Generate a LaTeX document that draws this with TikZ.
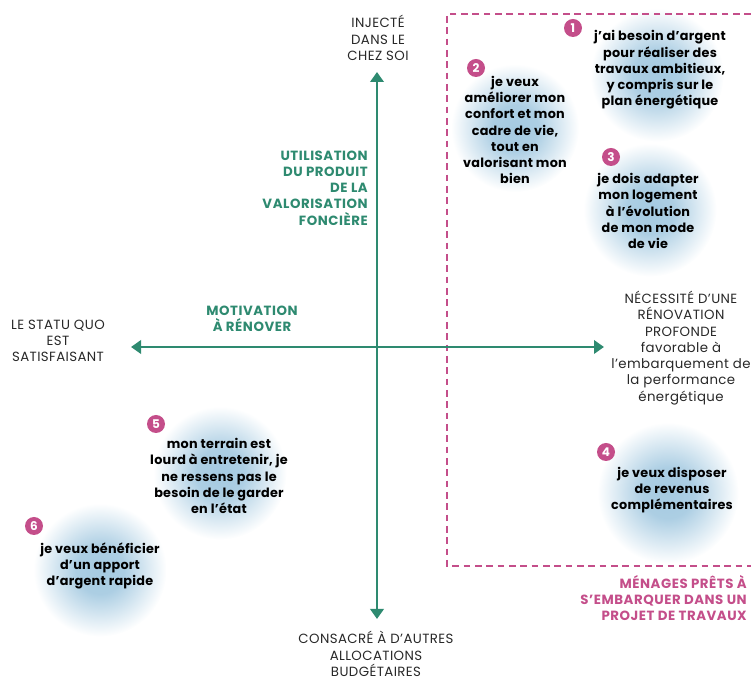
\documentclass[tikz,border=0pt]{standalone}
\usepackage{fontspec}
\setmainfont{Poppins}
\newfontfamily\labfont[LetterSpace=3]{Poppins}
\newfontfamily\headfont[LetterSpace=4]{Poppins}
\newfontfamily\bubfont[LetterSpace=2]{Poppins}
\usepackage{tikz}
\usetikzlibrary{arrows.meta,positioning}
\definecolor{axisgreen}{RGB}{46,138,112}
\definecolor{menpink}{RGB}{196,78,138}
\definecolor{bubblue}{RGB}{165,202,225}
\definecolor{labgray}{RGB}{40,40,40}
\pgfdeclareradialshading{bubshade}{\pgfpoint{0bp}{0bp}}{%
  color(0bp)=(bubblue);color(9bp)=(bubblue!92);color(25bp)=(white);color(50bp)=(white)}
\tikzset{
  axis/.style={{Triangle[length=7.5pt,width=10pt]}-{Triangle[length=7.5pt,width=10pt]},
    line width=2.2pt,axisgreen},
  frame/.style={menpink,line width=1.1pt,dash pattern=on 5pt off 3.5pt},
  axislab/.style={align=center,text=labgray,inner sep=0pt,
    font=\labfont\fontsize{10}{12.2}\selectfont},
  greenlab/.style={text=axisgreen,inner sep=0pt,
    font=\headfont\fontsize{10}{12.2}\selectfont\bfseries},
  bubble/.style={circle,shading=bubshade,minimum size=#1,inner sep=0pt},
  bubtext/.style={align=center,inner sep=0pt,text=black,
    font=\bubfont\fontsize{9.6}{12.2}\selectfont\bfseries},
  badge/.style={circle,fill=menpink,text=white,inner sep=0pt,minimum size=13.5pt,
    font=\fontsize{9}{9}\selectfont\bfseries}
}
\begin{document}
\begin{tikzpicture}[x=0.75pt,y=-0.75pt]
\useasboundingbox (0,0) rectangle (751,680);
% soft bubbles
\node[bubble=100pt] (s1) at (657,75) {};
\node[bubble=96pt] (s2) at (515,128) {};
\node[bubble=100pt] (s3) at (650,210) {};
\node[bubble=106pt] (s4) at (668,493) {};
\node[bubble=100pt] (s5) at (220,473) {};
\node[bubble=100pt] (s6) at (100,570) {};
% ready households frame
\draw[frame] (751,14) -- (447,14) -- (447,566) -- (751,566);
% axes
\coordinate (top) at (377,72);
\coordinate (bot) at (377,619);
\coordinate (lft) at (131,347);
\coordinate (rgt) at (604,347);
\draw[axis] (bot) -- (top);
\draw[axis] (lft) -- (rgt);
% axis ends
\node[axislab] (inj) at (378,38) {INJECTÉ\\DANS LE\\CHEZ SOI};
\node[axislab] (cons) at (376,654) {CONSACRÉ À D’AUTRES\\ALLOCATIONS\\BUDGÉTAIRES};
\node[axislab] (statu) at (58,341) {LE STATU QUO\\EST\\SATISFAISANT};
\node[axislab] (neces) at (681,348) {NÉCESSITÉ D’UNE\\RÉNOVATION\\PROFONDE\\favorable à\\l’embarquement de\\la performance\\énergétique};
% axis titles
\node[greenlab,align=right,anchor=east] (util) at (368,188) {UTILISATION\\DU PRODUIT\\DE LA\\VALORISATION\\FONCIÈRE};
\node[greenlab,align=center] (motiv) at (252,319) {MOTIVATION\\À RÉNOVER};
\node[text=menpink,inner sep=0pt,align=right,anchor=east,
  font=\headfont\fontsize{10}{12.2}\selectfont\bfseries] (menag) at (747,598)
  {MÉNAGES PRÊTS À\\S’EMBARQUER DANS UN\\PROJET DE TRAVAUX};
% motivations
\node[bubtext] (t1) at (660,70) {j’ai besoin d’argent\\pour réaliser des\\travaux ambitieux,\\y compris sur le\\plan énergétique};
\node[bubtext] (t2) at (515,130) {je veux\\améliorer mon\\confort et mon\\cadre de vie,\\tout en\\valorisant mon\\bien};
\node[bubtext] (t3) at (648,211) {je dois adapter\\mon logement\\à l’évolution\\de mon mode\\de vie};
\node[bubtext] (t4) at (672,490) {je veux disposer\\de revenus\\complémentaires};
\node[bubtext] (t5) at (219,476) {mon terrain est\\lourd à entretenir, je\\ne ressens pas le\\besoin de le garder\\en l’état};
\node[bubtext] (t6) at (100,566) {je veux bénéficier\\d’un apport\\d’argent rapide};
% numbers
\node[badge] (n1) at (573,28) {1};
\node[badge] (n2) at (476,68) {2};
\node[badge] (n3) at (611,157) {3};
\node[badge] (n4) at (606,452) {4};
\node[badge] (n5) at (156,424) {5};
\node[badge] (n6) at (34,526) {6};
\end{tikzpicture}
\end{document}
